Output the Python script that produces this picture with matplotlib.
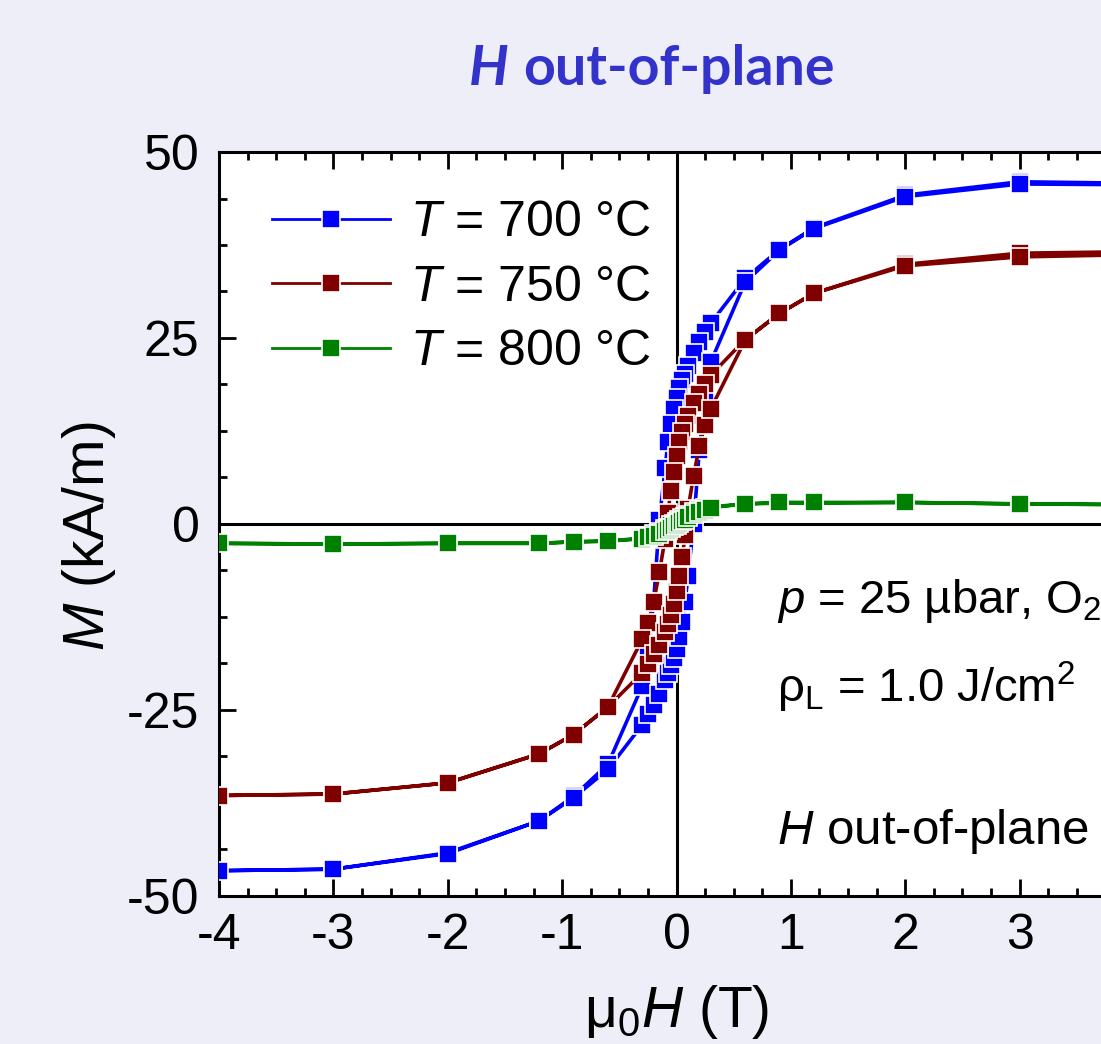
import matplotlib
matplotlib.use("Agg")
import matplotlib.pyplot as plt
from matplotlib.ticker import MultipleLocator

plt.rcParams['font.family'] = ['Liberation Sans', 'DejaVu Sans']
plt.rcParams['mathtext.fontset'] = 'custom'
plt.rcParams['mathtext.rm'] = 'Liberation Sans'
plt.rcParams['mathtext.it'] = 'Liberation Sans:italic'
plt.rcParams['mathtext.bf'] = 'Liberation Sans:bold'
plt.rcParams['axes.unicode_minus'] = False

# field sweep: +4 T -> -4 T -> +4 T
h_down = [4, 3, 2, 1.2, 0.9, 0.6, 0.3, 0.25, 0.2, 0.15, 0.1, 0.075, 0.05, 0.025, 0,
          -0.025, -0.05, -0.075, -0.1, -0.15, -0.2, -0.25, -0.3, -0.6, -0.9, -1.2, -2, -3, -4]
h_up = [-3, -2, -1.2, -0.9, -0.6, -0.3, -0.25, -0.2, -0.15, -0.1, -0.075, -0.05, -0.025, 0,
        0.025, 0.05, 0.075, 0.1, 0.15, 0.2, 0.25, 0.3, 0.6, 0.9, 1.2, 2, 3, 4]
h_field = h_down + h_up

# M (kA/m), T = 700 C
m_700 = [45.8, 46.0, 44.2, 39.8, 36.9, 33.0, 27.0, 25.8, 24.5, 23.0, 21.2, 20.2, 19.3, 18.3, 17.0,
         15.5, 13.5, 11.0, 7.5, 0.5, -10.5, -17.5, -21.8, -32.3, -36.6, -39.9, -44.2, -46.4, -46.6,
         -46.4, -44.3, -39.9, -36.8, -33.0, -27.0, -25.6, -24.3, -22.8, -21.0, -20.0, -19.0, -18.0,
         -16.8, -15.2, -13.2, -10.5, -7.0, 0.0, 10.0, 17.0, 21.8, 32.5, 36.8, 39.7, 44.0, 45.7, 45.6]
# T = 750 C
m_750 = [36.6, 36.4, 34.9, 31.0, 28.3, 24.8, 20.0, 18.8, 17.5, 16.3, 14.5, 13.5, 12.4, 11.0, 9.2,
         7.0, 4.5, 1.5, -2.0, -6.5, -10.5, -13.3, -15.5, -24.6, -28.3, -30.9, -34.8, -36.3, -36.5,
         -36.3, -34.8, -30.9, -28.3, -24.6, -20.0, -18.8, -17.5, -16.2, -14.5, -13.4, -12.2, -10.8,
         -9.0, -7.0, -4.5, -1.5, 2.0, 6.5, 10.5, 13.3, 15.5, 24.7, 28.3, 31.0, 34.7, 35.9, 36.2]
# T = 800 C
m_800 = [2.6, 2.7, 2.9, 2.8, 2.8, 2.7, 2.3, 2.1, 1.9, 1.6, 1.2, 1.0, 0.8, 0.5, 0.3,
         0.0, -0.2, -0.5, -0.7, -1.1, -1.4, -1.7, -1.9, -2.3, -2.4, -2.6, -2.6, -2.7, -2.6,
         -2.7, -2.6, -2.6, -2.4, -2.3, -2.0, -1.8, -1.6, -1.3, -1.0, -0.8, -0.6, -0.3,
         -0.1, 0.1, 0.4, 0.6, 0.9, 1.3, 1.6, 1.9, 2.2, 2.7, 2.9, 2.9, 2.9, 2.7, 2.6]

labels = ['$T$ = 700 °C', '$T$ = 750 °C', '$T$ = 800 °C']
colors = ['#0000ff', '#800000', '#008000']
x_ticks = [-4, -3, -2, -1, 0, 1, 2, 3, 4]
x_ticklabels = ['-4', '-3', '-2', '-1', '0', '1', '2', '3', '']

fig = plt.figure(figsize=(11.01, 10.44), dpi=100)
fig.patch.set_facecolor('#eeeef9')
ax = fig.add_axes([0.1989, 0.1418, 0.8311, 0.7126])
ax.set_facecolor('white')

ax.axvline(0, color='black', lw=2.2, zorder=1.5)
ax.axhline(0, color='black', lw=2.2, zorder=1.5)

for m, lab, c in zip([m_700, m_750, m_800], labels, colors):
    ax.plot(h_field, m, '-s', color=c, lw=2.6, ms=13, mec='white', mew=1.2,
            label=lab, zorder=3)

ax.set_xlim(-4, 4)
ax.set_ylim(-50, 50)
ax.set_xticks(x_ticks, labels=x_ticklabels)
ax.xaxis.set_minor_locator(MultipleLocator(0.25))
ax.yaxis.set_major_locator(MultipleLocator(25))
ax.yaxis.set_minor_locator(MultipleLocator(6.25))
ax.tick_params(which='both', direction='in', top=True, right=True, width=2,
               labelsize=36, color='black')
ax.tick_params(which='major', length=12)
ax.tick_params(which='minor', length=6)
ax.tick_params(axis='y', pad=14)
ax.tick_params(axis='x', pad=12)
for s in ax.spines.values():
    s.set_linewidth(2.2)

ax.set_xlabel('μ$_0$$H$ (T)', fontsize=41)
ax.set_ylabel('$M$ (kA/m)', fontsize=41)
ax.xaxis.set_label_coords(0.5, -0.117)
ax.yaxis.set_label_coords(-0.11, 0.483)

leg = ax.legend(loc='upper left', bbox_to_anchor=(272 / 1101, 1 - 200 / 1044),
                bbox_transform=fig.transFigure, frameon=False, fontsize=36,
                handlelength=2.35, handletextpad=0.42, labelspacing=0.37,
                borderpad=0, borderaxespad=0)
for h in leg.legend_handles:
    h.set_linewidth(2)

ax.text(0.88, -11.9, '$p$ = 25 µbar, O$_2$', fontsize=34, va='baseline')
ax.text(0.88, -24.0, 'ρ$_\\mathrm{L}$ = 1.0 J/cm$^2$', fontsize=34, va='baseline')
ax.text(0.88, -43.0, '$H$ out-of-plane', fontsize=35.5, va='baseline')

fig.text(469 / 1101, 1 - 85 / 1044, 'H', fontsize=40, color='#3333cc',
         family='Lato', weight='bold', style='italic', va='baseline')
fig.text(523 / 1101, 1 - 85 / 1044, 'out-of-plane', fontsize=40, color='#3333cc',
         family='Lato', weight='bold', va='baseline')

fig.savefig('out.png', dpi=100, facecolor=fig.get_facecolor())
